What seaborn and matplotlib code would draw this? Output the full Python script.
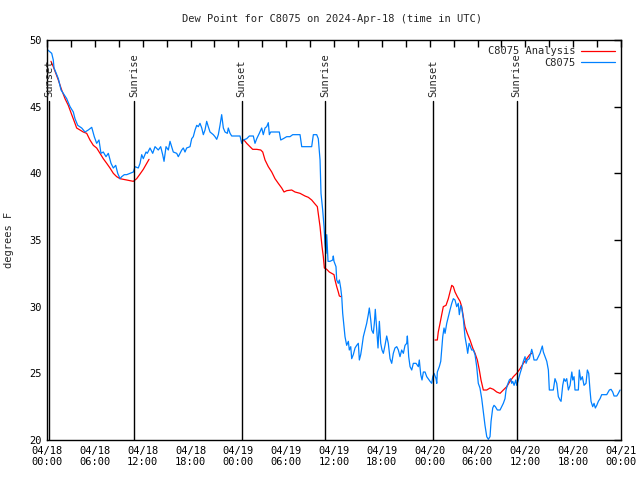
import numpy as np
import pandas as pd
import matplotlib
matplotlib.use('Agg')
import matplotlib.pyplot as plt
import matplotlib.dates as mdates
from matplotlib.ticker import FuncFormatter
import seaborn as sns

# Hours after 2024-04-18 00:00 UTC and dew point (F)
station_hours = [
    0.00, 0.59, 0.79, 0.88, 1.09, 1.42, 1.76, 2.04, 2.47, 2.89, 3.30, 3.51, 3.85, 4.35, 4.77,
    5.18, 5.61, 5.93, 6.23, 6.52, 6.77, 7.06, 7.40, 7.69, 8.03, 8.32, 8.62, 8.87, 9.16, 9.37,
    9.70, 10.00, 10.41, 10.83, 11.04, 11.45, 11.67, 11.88, 12.08, 12.42, 12.58, 12.92, 13.26,
    13.55, 13.96, 14.26, 14.51, 14.68, 14.93, 15.22, 15.43, 15.64, 15.84, 16.27, 16.47, 16.90,
    17.10, 17.31, 17.52, 17.94, 18.15, 18.35, 18.57, 18.78, 18.98, 19.19, 19.41, 19.61, 19.82,
    20.03, 20.23, 20.45, 20.66, 20.86, 21.07, 21.29, 21.49, 21.70, 21.91, 22.12, 22.33, 22.62,
    22.74, 22.96, 23.17, 24.21, 24.42, 24.62, 25.05, 25.38, 25.88, 26.09, 26.31, 26.63, 26.93,
    27.13, 27.35, 27.56, 27.76, 27.89, 28.06, 29.14, 29.32, 29.64, 30.07, 30.48, 30.82, 31.74,
    31.95, 33.20, 33.41, 33.83, 34.03, 34.25, 34.37, 34.58, 34.75, 34.87, 35.00, 35.09, 35.25,
    35.50, 35.84, 35.91, 36.00, 36.25, 36.34, 36.54, 36.67, 36.84, 36.97, 37.09, 37.26, 37.38,
    37.59, 37.80, 37.92, 38.10, 38.22, 38.42, 38.64, 38.85, 39.05, 39.18, 39.35, 39.48, 39.68,
    39.89, 40.10, 40.30, 40.43, 40.61, 40.73, 40.93, 41.06, 41.18, 41.36, 41.52, 41.69, 41.86,
    42.02, 42.19, 42.40, 42.61, 42.81, 43.03, 43.24, 43.44, 43.65, 43.87, 44.07, 44.28, 44.49,
    44.70, 44.91, 45.12, 45.20, 45.37, 45.54, 45.75, 45.95, 46.29, 46.58, 46.70, 46.88, 47.04,
    47.21, 47.42, 47.63, 48.05, 48.26, 48.39, 48.55, 48.80, 48.89, 48.96, 49.21, 49.39, 49.51,
    49.64, 49.80, 49.93, 50.14, 50.34, 50.55, 50.77, 50.97, 51.18, 51.39, 51.59, 51.72, 51.90,
    52.02, 52.22, 52.43, 52.65, 52.77, 52.94, 53.06, 53.27, 53.48, 53.69, 53.90, 54.10, 54.31,
    54.53, 54.73, 54.94, 55.16, 55.36, 55.57, 55.70, 55.91, 56.07, 56.24, 56.49, 56.83, 57.04,
    57.24, 57.45, 57.58, 57.74, 57.99, 58.17, 58.29, 58.42, 58.59, 58.80, 58.92, 59.12, 59.34,
    59.55, 59.75, 59.96, 60.09, 60.25, 60.50, 60.68, 60.80, 60.93, 61.09, 61.43, 61.63, 61.84,
    62.13, 62.26, 62.47, 62.69, 62.89, 63.01, 63.51, 63.72, 63.94, 64.14, 64.35, 64.48, 64.69,
    64.85, 65.02, 65.19, 65.40, 65.61, 65.83, 65.95, 66.11, 66.23, 66.65, 66.77, 66.95, 67.15,
    67.36, 67.61, 67.78, 67.95, 68.11, 68.24, 68.45, 68.62, 68.78, 68.96, 69.16, 69.37, 69.58,
    70.21, 70.54, 70.75, 70.96, 71.13, 71.47, 71.67, 71.88,
]
station_dewpt = [
    49.3, 49.0, 48.5, 47.9, 47.6, 47.1, 46.25, 46.0, 45.6, 45.0, 44.6, 44.1, 43.6, 43.4, 43.1,
    43.25, 43.45, 42.75, 42.25, 42.5, 41.5, 41.6, 41.25, 41.5, 40.75, 40.4, 40.6, 40.0, 39.6, 39.75,
    39.9, 39.9, 40.0, 40.1, 40.5, 40.4, 40.75, 41.4, 41.1, 41.6, 41.5, 41.9, 41.5,
    42.0, 41.75, 42.0, 41.4, 40.9, 42.0, 41.75, 42.4, 42.0, 41.6, 41.5, 41.25, 41.75,
    41.9, 41.6, 41.9, 42.0, 42.6, 42.75, 43.25, 43.6, 43.5, 43.75, 43.4, 42.9, 43.25,
    43.9, 43.5, 43.1, 43.0, 42.9, 42.75, 42.55, 42.9, 43.6, 44.4, 43.4, 43.1, 43.0,
    43.4, 43.0, 42.8, 42.8, 42.25, 42.5, 42.6, 42.8, 42.8, 42.25, 42.6, 43.0, 43.4,
    42.9, 43.4, 43.5, 43.8, 42.9, 43.1, 43.1, 42.5, 42.6, 42.75, 42.75, 42.9, 42.9,
    42.0, 42.0, 42.9, 42.9, 42.6, 41.0, 38.5, 37.25, 36.0, 34.75, 34.0, 35.4, 33.4,
    33.4, 33.5, 33.8, 33.4, 33.0, 32.0, 31.75, 32.0, 31.4, 30.75, 29.5, 28.5, 27.75,
    27.1, 27.4, 26.75, 27.0, 26.1, 26.4, 26.9, 27.1, 27.25, 26.0, 26.4, 26.9, 27.75,
    28.25, 28.75, 29.4, 29.9, 29.0, 28.25, 28.0, 28.75, 29.8, 28.25, 26.9, 28.9, 27.25,
    26.75, 26.5, 27.1, 27.8, 27.25, 26.1, 25.75, 26.5, 26.9, 27.0, 26.75, 26.25, 26.75,
    26.5, 27.1, 27.25, 27.8, 26.25, 25.5, 25.25, 25.75, 25.75, 25.5, 26.0, 24.9, 24.5,
    25.1, 25.1, 24.75, 24.4, 24.25, 24.75, 25.0, 24.6, 24.25, 25.1, 25.5, 25.9, 26.75,
    27.75, 28.4, 28.0, 28.75, 29.25, 29.75, 30.25, 30.6, 30.5, 30.0, 30.25, 29.4, 30.1,
    29.9, 29.1, 27.75, 27.0, 26.5, 27.25, 27.1, 26.75, 26.75, 26.4, 25.5, 24.25, 23.9,
    23.1, 22.1, 21.1, 20.25, 20.05, 20.25, 21.4, 22.4, 22.6, 22.5, 22.25, 22.25, 22.5,
    22.75, 23.1, 23.75, 24.1, 24.5, 24.6, 24.25, 24.4, 24.1, 24.5, 24.1, 24.5, 25.0,
    25.4, 25.9, 26.25, 25.75, 26.0, 26.1, 26.5, 26.8, 26.5, 26.0, 26.0, 26.25, 26.5,
    27.05, 26.6, 26.25, 25.9, 25.25, 23.75, 23.75, 24.6, 24.25, 23.25, 23.0, 22.9, 24.1,
    24.6, 24.4, 24.6, 23.75, 24.1, 25.1, 24.5, 24.75, 23.75, 23.75, 25.25, 24.5, 24.75,
    24.1, 24.25, 25.25, 25.0, 23.75, 22.9, 22.5, 22.75, 22.4, 22.6, 22.9, 23.1, 23.4,
    23.4, 23.75, 23.8, 23.6, 23.3, 23.3, 23.5, 23.75,
]

# analysis series comes in three pieces (gaps in between)
analysis_hours = [
    [0.50, 0.79, 1.42, 1.84, 2.26, 2.67, 3.10, 3.51, 3.72, 4.14, 4.55, 4.98, 5.39, 5.81, 6.23,
     6.65, 7.06, 7.49, 7.90, 8.32, 8.74, 9.16, 9.57, 10.00, 10.41, 10.83, 11.25, 11.67, 12.08,
     12.51, 12.80],
    [24.42, 24.71, 25.05, 25.46, 25.80, 26.31, 26.81, 27.06, 27.35, 27.76, 28.19, 28.60, 29.01,
     29.44, 29.73, 30.07, 30.69, 31.11, 31.74, 32.36, 32.78, 33.20, 33.62, 33.91, 34.08, 34.25,
     34.37, 34.50, 34.66, 34.79, 35.09, 35.41, 35.71, 36.00, 36.13, 36.34, 36.54, 36.67, 36.88],
    [48.67, 48.96, 49.08, 49.30, 49.51, 49.71, 50.05, 50.34, 50.55, 50.77, 50.97, 51.18, 51.47,
     51.81, 52.02, 52.22, 52.43, 52.72, 53.06, 53.40, 53.69, 53.98, 54.23, 54.44, 54.73, 55.16,
     55.57, 55.99, 56.41, 56.83, 57.24, 57.67, 58.08, 58.50, 58.92, 59.34, 59.75, 60.18, 60.55,
     60.80],
]
analysis_dewpt = [
    [48.4, 48.0, 47.0, 46.25, 45.6, 45.1, 44.4, 43.75, 43.4, 43.25, 43.1, 43.0, 42.5, 42.1, 41.9,
     41.5, 41.1, 40.75, 40.4, 40.0, 39.75, 39.6, 39.55, 39.5, 39.45, 39.4, 39.6, 39.95, 40.3,
     40.75, 41.05],
    [42.4, 42.5, 42.25, 42.0, 41.8, 41.8, 41.75, 41.6, 41.0, 40.5, 40.1, 39.6, 39.25,
     38.9, 38.6, 38.7, 38.75, 38.6, 38.5, 38.3, 38.2, 38.0, 37.7, 37.5, 36.75, 36.0,
     35.25, 34.5, 33.75, 32.9, 32.8, 32.6, 32.5, 32.4, 32.0, 31.5, 31.1, 30.8, 30.75],
    [27.5, 27.5, 28.1, 28.75, 29.4, 30.0, 30.1, 30.6, 31.1, 31.6, 31.5, 31.1, 30.75,
     30.4, 30.0, 29.25, 28.5, 28.0, 27.5, 26.9, 26.5, 26.0, 25.25, 24.5, 23.75, 23.75,
     23.9, 23.8, 23.6, 23.5, 23.75, 24.0, 24.4, 24.75, 25.0, 25.35, 25.75, 26.1, 26.4,
     26.5],
]

sunset_hours = [0.28, 24.40, 48.45]
sunrise_hours = [10.95, 34.93, 58.92]

start = pd.Timestamp('2024-04-18 00:00')


def to_time(hours):
    return start + pd.to_timedelta(np.asarray(hours), unit='h')


sns.set_style('white')
plt.rcParams['font.family'] = ['DejaVu Sans Mono']
plt.rcParams['font.size'] = 7

fig = plt.figure(figsize=(6.4, 4.8), dpi=100)
ax = fig.add_axes([47 / 640, 40 / 480, 574 / 640, 400 / 480])

for i, (hrs, vals) in enumerate(zip(analysis_hours, analysis_dewpt)):
    seg = pd.DataFrame({'time': to_time(hrs), 'dewpt': vals})
    sns.lineplot(data=seg, x='time', y='dewpt', color='#ff0000', linewidth=0.9,
                 label='C8075 Analysis' if i == 0 else None, ax=ax)

obs = pd.DataFrame({'time': to_time(station_hours), 'dewpt': station_dewpt})
sns.lineplot(data=obs, x='time', y='dewpt', color='#0080ff', linewidth=0.9,
             label='C8075', ax=ax)

# sunrise / sunset markers, label sits just above the line
for name, hrs in [('Sunset', sunset_hours), ('Sunrise', sunrise_hours)]:
    for t in to_time(hrs):
        ax.plot([t, t], [20, 45.4], color='black', linewidth=1.0)
        ax.text(t, 45.75, name, rotation=90, ha='center', va='bottom', fontsize=7.5)

ax.set_xlim(to_time([0])[0], to_time([72])[0])
ax.set_ylim(20, 50)
ax.set_yticks(range(20, 51, 5))
ax.xaxis.set_major_locator(mdates.HourLocator(byhour=range(0, 24, 3)))
ax.xaxis.set_major_formatter(FuncFormatter(
    lambda v, pos: mdates.num2date(v).strftime('%m/%d\n%H:%M')
    if mdates.num2date(v).hour % 6 == 0 else ''))

ax.tick_params(direction='in', length=5, width=1, top=True, right=True,
               labelsize=7.5, pad=4, colors='black')
for s in ax.spines.values():
    s.set_color('black')
    s.set_linewidth(1.0)

ax.set_xlabel('')
ax.set_ylabel('degrees F', fontsize=7.5)
ax.yaxis.set_label_coords(-0.057, 0.5)

ax.legend(loc='upper right', frameon=False, markerfirst=False, fontsize=7.5,
          handlelength=3.2, borderaxespad=0.2, labelspacing=0.15, handletextpad=0.6)

fig.text(332 / 640, 1 - 19 / 480, 'Dew Point for C8075 on 2024-Apr-18 (time in UTC)',
         ha='center', va='center', fontsize=7.5)

fig.savefig('out.png', dpi=100)
